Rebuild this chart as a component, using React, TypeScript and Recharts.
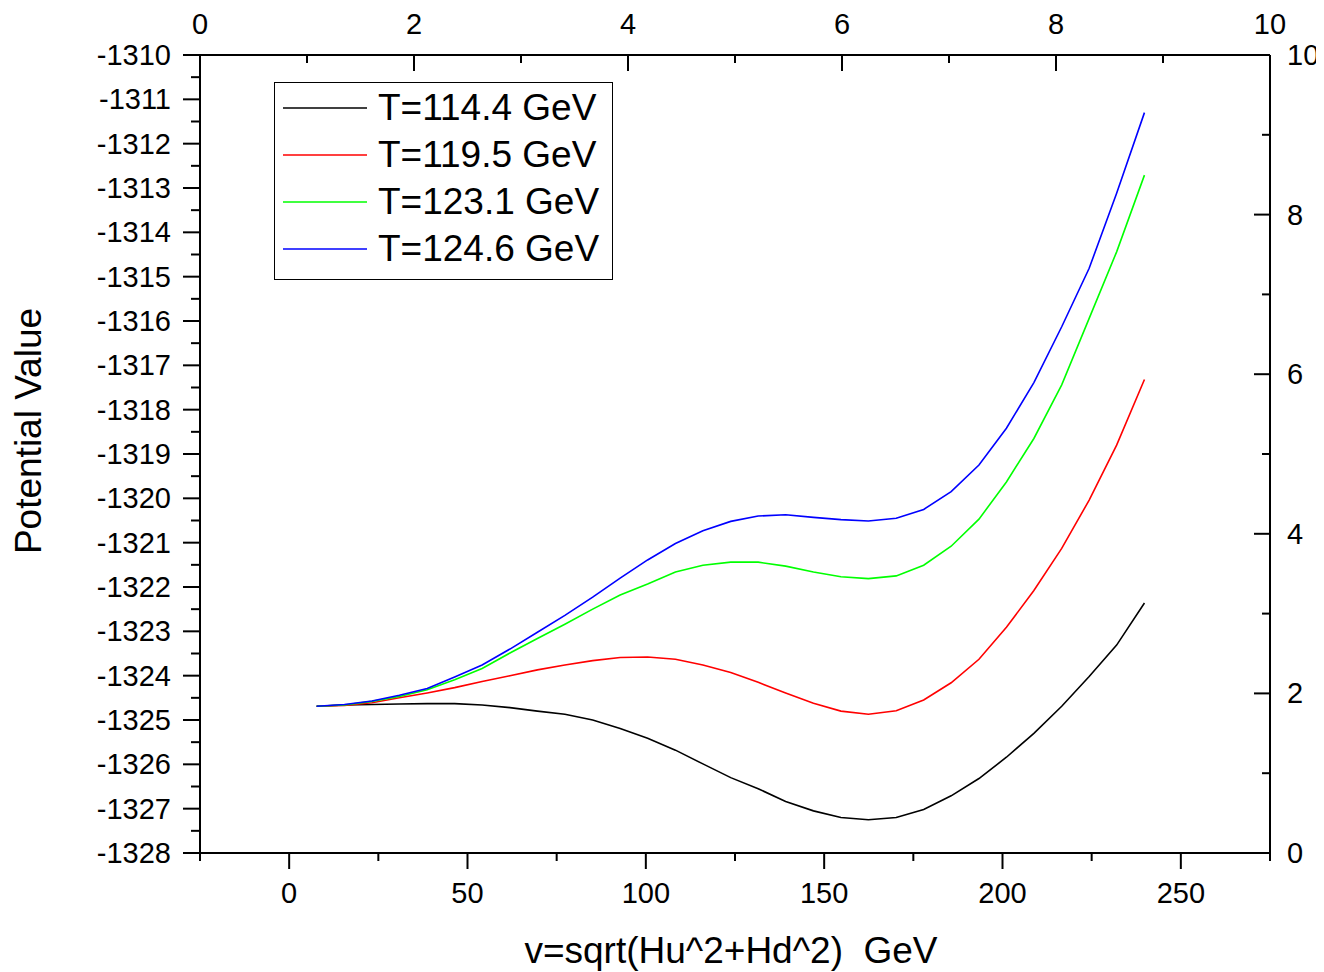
import React from 'react'
import { LineChart, Line, XAxis, YAxis, Legend } from 'recharts'

const FONT = '"Liberation Sans", Arial, sans-serif'

// v = sqrt(Hu^2+Hd^2) in GeV
const vValues = [
  7.7, 15.5, 23.2, 30.9, 38.7, 46.4, 54.1, 61.9, 69.6, 77.3, 85.1, 92.8, 100.5, 108.3, 116.0, 123.8,
  131.5, 139.2, 147.0, 154.7, 162.4, 170.2, 177.9, 185.6, 193.4, 201.1, 208.8, 216.6, 224.3, 232.0, 239.8,
]

const t1144 = [
  -1324.69, -1324.66, -1324.65, -1324.64, -1324.63, -1324.63, -1324.66, -1324.72, -1324.8, -1324.87,
  -1325.0, -1325.19, -1325.41, -1325.68, -1325.99, -1326.3, -1326.55, -1326.84, -1327.05, -1327.2,
  -1327.25, -1327.2, -1327.02, -1326.71, -1326.32, -1325.84, -1325.3, -1324.69, -1324.02, -1323.31, -1322.36,
]
const t1195 = [
  -1324.69, -1324.67, -1324.61, -1324.5, -1324.39, -1324.27, -1324.13, -1324.0, -1323.87, -1323.76,
  -1323.66, -1323.59, -1323.58, -1323.63, -1323.76, -1323.93, -1324.15, -1324.39, -1324.62, -1324.8,
  -1324.87, -1324.79, -1324.55, -1324.16, -1323.63, -1322.91, -1322.08, -1321.13, -1320.04, -1318.8, -1317.32,
]
const t1231 = [
  -1324.69, -1324.66, -1324.58, -1324.47, -1324.32, -1324.09, -1323.84, -1323.49, -1323.16, -1322.84,
  -1322.5, -1322.18, -1321.93, -1321.66, -1321.51, -1321.44, -1321.44, -1321.53, -1321.66, -1321.77,
  -1321.81, -1321.75, -1321.51, -1321.08, -1320.47, -1319.63, -1318.65, -1317.44, -1315.94, -1314.44, -1312.71,
]
const t1246 = [
  -1324.69, -1324.65, -1324.57, -1324.44, -1324.29, -1324.03, -1323.76, -1323.4, -1323.02, -1322.64,
  -1322.23, -1321.8, -1321.39, -1321.02, -1320.73, -1320.52, -1320.4, -1320.37, -1320.43, -1320.48,
  -1320.51, -1320.45, -1320.25, -1319.85, -1319.25, -1318.42, -1317.39, -1316.13, -1314.81, -1313.12, -1311.3,
]

const seriesNames = ['T=114.4 GeV', 'T=119.5 GeV', 'T=123.1 GeV', 'T=124.6 GeV']
const seriesColors = ['#000000', '#ff0000', '#00ff00', '#0000ff']

// ticks
const bottomTicks = [-25, 0, 25, 50, 75, 100, 125, 150, 175, 200, 225, 250, 275]
const bottomLabels = [0, 50, 100, 150, 200, 250]
const topTicks = [0, 1, 2, 3, 4, 5, 6, 7, 8, 9, 10]
const topLabels = [0, 2, 4, 6, 8, 10]
const leftLabels = [
  -1328, -1327, -1326, -1325, -1324, -1323, -1322, -1321, -1320, -1319, -1318, -1317, -1316, -1315,
  -1314, -1313, -1312, -1311, -1310,
]
const leftTicks = leftLabels.flatMap((v) => (v < -1310 ? [v, v + 0.5] : [v]))
const rightTicks = [0, 1, 2, 3, 4, 5, 6, 7, 8, 9, 10]
const rightLabels = [0, 2, 4, 6, 8, 10]

const data = vValues.map((v, i) => ({
  v,
  a: t1144[i],
  b: t1195[i],
  c: t1231[i],
  d: t1246[i],
}))

const TICK_FS = 29
const MAJOR = 16
const MINOR = 8

const BottomTick = (props: any) => {
  const { x, y, payload } = props
  const major = bottomLabels.includes(payload.value)
  return (
    <g>
      <line x1={x} x2={x} y1={y} y2={y + (major ? MAJOR : MINOR)} stroke="#000" strokeWidth={2} />
      {major && (
        <text x={x} y={y + 40} textAnchor="middle" dominantBaseline="central" fontSize={TICK_FS} fontFamily={FONT} fill="#000">
          {payload.value}
        </text>
      )}
    </g>
  )
}

const TopTick = (props: any) => {
  const { x, y, payload } = props
  const major = topLabels.includes(payload.value)
  return (
    <g>
      <line x1={x} x2={x} y1={y} y2={y + (major ? MAJOR : MINOR)} stroke="#000" strokeWidth={2} />
      {major && (
        <text x={x} y={y - 31} textAnchor="middle" dominantBaseline="central" fontSize={TICK_FS} fontFamily={FONT} fill="#000">
          {payload.value}
        </text>
      )}
    </g>
  )
}

const LeftTick = (props: any) => {
  const { x, y, payload } = props
  const major = Number.isInteger(payload.value)
  return (
    <g>
      <line x1={x - (major ? 17 : 9)} x2={x} y1={y} y2={y} stroke="#000" strokeWidth={2} />
      {major && (
        <text x={x - 29} y={y} textAnchor="end" dominantBaseline="central" fontSize={TICK_FS} fontFamily={FONT} fill="#000">
          {payload.value}
        </text>
      )}
    </g>
  )
}

const RightTick = (props: any) => {
  const { x, y, payload } = props
  const major = payload.value % 2 === 0
  return (
    <g>
      <line x1={x} x2={x - (major ? MAJOR : MINOR)} y1={y} y2={y} stroke="#000" strokeWidth={2} />
      {rightLabels.includes(payload.value) && (
        <text x={x + 17} y={y} textAnchor="start" dominantBaseline="central" fontSize={TICK_FS} fontFamily={FONT} fill="#000">
          {payload.value}
        </text>
      )}
    </g>
  )
}

const LegendBox = ({ payload }: any) => (
  <div
    style={{
      position: 'relative',
      width: 337,
      height: 196,
      border: '1px solid #000',
      background: '#fff',
      fontFamily: FONT,
      fontSize: 37,
      color: '#000',
    }}
  >
    {(payload || []).map((p: any, i: number) => (
      <div
        key={p.value}
        style={{ position: 'absolute', left: 8, top: 25 + i * 47 - 23, height: 46, display: 'flex', alignItems: 'center', whiteSpace: 'nowrap' }}
      >
        <svg width={84} height={4} style={{ display: 'block' }}>
          <line x1={0} x2={84} y1={2} y2={2} stroke={p.color} strokeWidth={1.5} />
        </svg>
        <span style={{ marginLeft: 11, lineHeight: '46px' }}>{p.value}</span>
      </div>
    ))}
  </div>
)

export default function App() {
  return (
    <div style={{ fontFamily: FONT }}>
      <style>{'.recharts-surface { overflow: visible; }'}</style>
      <LineChart width={1316} height={964} data={data} margin={{ top: 0, right: 0, bottom: 0, left: 0 }}>
        <XAxis
          xAxisId="bottom"
          dataKey="v"
          type="number"
          orientation="bottom"
          domain={[-25, 275]}
          ticks={bottomTicks}
          interval={0}
          allowDataOverflow
          height={119}
          tickSize={0}
          tickMargin={0}
          tickLine={false}
          axisLine={{ stroke: '#000', strokeWidth: 2 }}
          tick={<BottomTick />}
          label={{
            content: () => (
              <text x={723} y={942} textAnchor="middle" dominantBaseline="central" fontSize={37} fontFamily={FONT} fill="#000" style={{ whiteSpace: 'pre' }}>
                {'v=sqrt(Hu^2+Hd^2)  GeV'}
              </text>
            ),
          }}
        />
        <XAxis
          xAxisId="top"
          dataKey="v"
          type="number"
          orientation="top"
          domain={[0, 10]}
          ticks={topTicks}
          interval={0}
          allowDataOverflow
          height={47}
          tickSize={0}
          tickMargin={0}
          tickLine={false}
          axisLine={{ stroke: '#000', strokeWidth: 2 }}
          tick={<TopTick />}
        />
        <YAxis
          yAxisId="left"
          type="number"
          domain={[-1328, -1310]}
          ticks={leftTicks}
          interval={0}
          allowDataOverflow
          width={192}
          tickSize={0}
          tickMargin={0}
          tickLine={false}
          axisLine={{ stroke: '#000', strokeWidth: 2 }}
          tick={<LeftTick />}
          label={{
            content: () => (
              <text x={20} y={423} transform="rotate(-90 20 423)" textAnchor="middle" dominantBaseline="central" fontSize={37} fontFamily={FONT} fill="#000">
                Potential Value
              </text>
            ),
          }}
        />
        <YAxis
          yAxisId="right"
          type="number"
          orientation="right"
          domain={[0, 10]}
          ticks={rightTicks}
          interval={0}
          allowDataOverflow
          width={54}
          tickSize={0}
          tickMargin={0}
          tickLine={false}
          axisLine={{ stroke: '#000', strokeWidth: 2 }}
          tick={<RightTick />}
        />
        <Legend
          layout="vertical"
          align="center"
          verticalAlign="middle"
          content={<LegendBox />}
          wrapperStyle={{ left: 266, top: 74, width: 339, height: 198 }}
        />
        {['a', 'b', 'c', 'd'].map((key, i) => (
          <Line
            key={key}
            xAxisId="bottom"
            yAxisId="left"
            type="linear"
            dataKey={key}
            name={seriesNames[i]}
            stroke={seriesColors[i]}
            strokeWidth={1.6}
            dot={false}
            activeDot={false}
            isAnimationActive={false}
          />
        ))}
      </LineChart>
    </div>
  )
}
